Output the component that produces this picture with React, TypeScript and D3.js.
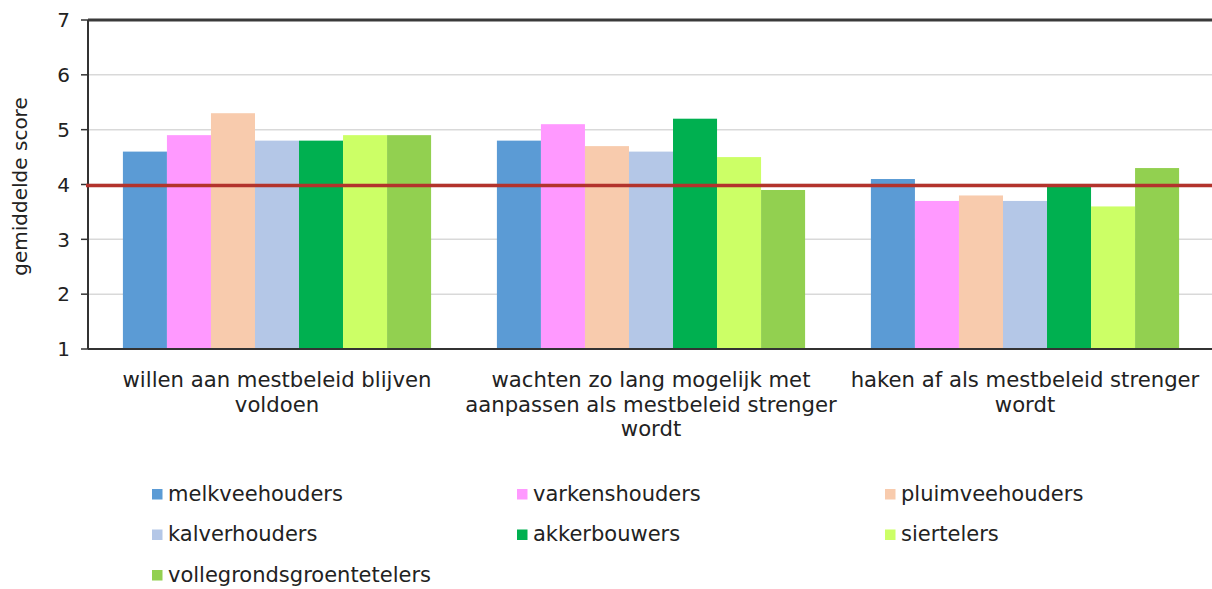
import React from "react";
import * as d3 from "d3";

const categories = [
  ["willen aan mestbeleid blijven", "voldoen"],
  ["wachten zo lang mogelijk met", "aanpassen als mestbeleid strenger", "wordt"],
  ["haken af als mestbeleid strenger", "wordt"],
];

const seriesNames = [
  "melkveehouders",
  "varkenshouders",
  "pluimveehouders",
  "kalverhouders",
  "akkerbouwers",
  "siertelers",
  "vollegrondsgroentetelers",
];

const seriesColors = ["#5b9bd5", "#ff99ff", "#f8cbad", "#b4c7e7", "#00b050", "#ccff66", "#92d050"];

// one array per category, values in series order
const willenValues = [4.6, 4.9, 5.3, 4.8, 4.8, 4.9, 4.9];
const wachtenValues = [4.8, 5.1, 4.7, 4.6, 5.2, 4.5, 3.9];
const hakenValues = [4.1, 3.7, 3.8, 3.7, 4.0, 3.6, 4.3];
const values = [willenValues, wachtenValues, hakenValues];

const yTicks = [1, 2, 3, 4, 5, 6, 7];
const referenceValue = 4;

const W = 1212, H = 589;
const left = 88, right = 1212, top = 20, bottom = 349;
const font = "'DejaVu Sans', Verdana, sans-serif";

export default function App() {
  const x = d3.scaleBand<number>().domain(d3.range(categories.length)).range([left + 2, right])
    .paddingInner(0.176).paddingOuter(0.088);
  const xs = d3.scaleBand<number>().domain(d3.range(seriesNames.length)).range([0, x.bandwidth()]);
  const y = d3.scaleLinear().domain([1, 7]).range([bottom, top]);

  return (
    <svg width={W} height={H} style={{ position: "absolute", left: 0, top: 0, background: "#fff" }}>
      {/* gridlines */}
      {yTicks.filter(t => t > 1 && t < 7).map(t => (
        <line key={"g" + t} x1={left} x2={right} y1={y(t)} y2={y(t)} stroke="#d9d9d9" strokeWidth={1.5} />
      ))}
      {/* bars */}
      {values.map((vals, ci) => (
        <g key={"c" + ci} transform={`translate(${x(ci)},0)`}>
          {vals.map((v, si) => (
            <rect key={si} x={xs(si)} y={y(v)} width={xs.bandwidth()} height={y(1) - y(v)} fill={seriesColors[si]} />
          ))}
        </g>
      ))}
      {/* axes */}
      <line x1={left} x2={W} y1={top} y2={top} stroke="#3a3a3a" strokeWidth={3} />
      <line x1={left} x2={left} y1={top} y2={bottom} stroke="#333" strokeWidth={2} />
      <line x1={left} x2={W} y1={bottom} y2={bottom} stroke="#333" strokeWidth={2} />
      {yTicks.map(t => (
        <g key={"t" + t}>
          <line x1={left - 7} x2={left} y1={y(t)} y2={y(t)} stroke="#333" strokeWidth={1.5} />
          <text x={70} y={y(t)} dy="0.36em" textAnchor="end" fontFamily={font} fontSize={20} fill="#222">{t}</text>
        </g>
      ))}
      {/* reference line */}
      <line x1={left - 2} x2={W} y1={y(referenceValue) + 1} y2={y(referenceValue) + 1} stroke="#b3332c" strokeWidth={3.5} />
      {/* y title */}
      <text transform={`translate(20,${(top + bottom) / 2 + 2}) rotate(-90)`} textAnchor="middle" dy="0.36em"
        fontFamily={font} fontSize={20} fill="#222">gemiddelde score</text>
      {/* category labels */}
      {categories.map((lines, ci) => (
        <text key={"l" + ci} textAnchor="middle" fontFamily={font} fontSize={21.2} fill="#222">
          {lines.map((ln, li) => (
            <tspan key={li} x={(x(ci) ?? 0) + x.bandwidth() / 2} y={387 + li * 24.5}>{ln}</tspan>
          ))}
        </text>
      ))}
      {/* legend */}
      {seriesNames.map((name, i) => {
        const col = i % 3, row = Math.floor(i / 3);
        const lx = [152, 517, 885][col];
        const ly = 494 + row * 40.5;
        return (
          <g key={"lg" + i}>
            <rect x={lx} y={ly - 5} width={10.5} height={10.5} fill={seriesColors[i]} />
            <text x={lx + 16} y={ly} dy="0.33em" fontFamily={font} fontSize={21} fill="#222">{name}</text>
          </g>
        );
      })}
    </svg>
  );
}
